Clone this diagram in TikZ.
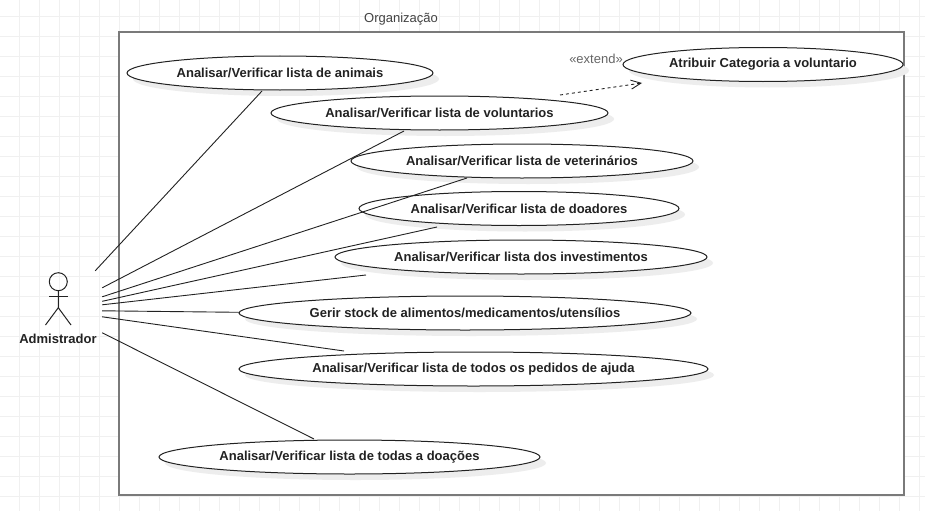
\documentclass[tikz,border=0pt]{standalone}
\usepackage{fontspec}
\setmainfont{Liberation Sans}
\usetikzlibrary{shapes.geometric,shadows,arrows.meta}
\definecolor{ink}{HTML}{222222}
\tikzset{
  usecase/.style={ellipse,draw=ink,line width=1pt,fill=white,inner sep=0pt,minimum height=34pt,
    font=\fontsize{13}{15}\selectfont\bfseries,text=ink,
    copy shadow={shadow xshift=6pt,shadow yshift=-6pt,draw=none,fill=black!7}},
  assoc/.style={draw=ink,line width=0.9pt},
  extendline/.style={draw=ink,line width=0.9pt,dash pattern=on 3pt off 3pt,-{Straight Barb[length=10pt,width=9pt,line width=0.9pt]}},
  gridline/.style={draw=black!6,line width=0.9pt},
  frame/.style={draw=black!52,line width=2pt,fill=white,inner sep=0pt},
  plain/.style={font=\fontsize{13}{15}\selectfont,text=ink!85,inner sep=0pt},
  stick/.style={draw=ink,line width=1pt},
  actorbox/.style={inner sep=0pt,minimum width=84pt,minimum height=76pt}
}
\begin{document}
\begin{tikzpicture}[x=1pt,y=-1pt]
\useasboundingbox (0,0) rectangle (925,511);
\fill[white] (0,0) rectangle (925,511);
\foreach \gx in {19.5,39.5,...,919.5} \draw[gridline] (\gx,0) -- (\gx,511);
\foreach \gy in {16,36,...,496} \draw[gridline] (0,\gy) -- (925,\gy);
\node[frame,minimum width=785pt,minimum height=463pt] (org) at (511.5,263.5) {};
\node[plain] (orgl) at (401,19) {Organização};
\node[plain,text=black!60] (extl) at (596,59) {«extend»};
% actor
\node[actorbox] (actor) at (60,309) {};
\node[circle,stick,inner sep=0pt,minimum size=18pt] (head) at (58.3,281.7) {};
\coordinate (hip) at (58.3,307.7);
\draw[stick] (head) -- (hip) -- (45.5,325);
\draw[stick] (hip) -- (71,325);
\draw[stick] (49,296.7) -- (68,296.7);
\node[plain,font=\fontsize{13}{15}\selectfont\bfseries,text=ink] (actorl) at (58,338.5) {Admistrador};
% use cases
\node[usecase,minimum width=306pt] (ani) at (280,73) {Analisar/Verificar lista de animais};
\node[usecase,minimum width=337pt] (vol) at (439.5,113) {Analisar/Verificar lista de voluntarios};
\node[usecase,minimum width=342pt] (vet) at (522,161) {Analisar/Verificar lista de veterinários};
\node[usecase,minimum width=320pt] (doa) at (519,208.5) {Analisar/Verificar lista de doadores};
\node[usecase,minimum width=372pt] (inv) at (521,257) {Analisar/Verificar lista dos investimentos};
\node[usecase,minimum width=452pt] (ges) at (465,313) {Gerir stock de alimentos/medicamentos/utensílios};
\node[usecase,minimum width=469pt] (ped) at (473.5,369) {Analisar/Verificar lista de todos os pedidos de ajuda};
\node[usecase,minimum width=381pt] (dac) at (349.5,457) {Analisar/Verificar lista de todas a doações};
\node[usecase,minimum width=280pt] (atr) at (763,64.5) {Atribuir Categoria a voluntario};
% connectors (actor.north east is at 102,271)
\draw[assoc] ([shift={(-7,0)}]actor.north east) -- ([shift={(-18,18)}]ani.center);
\draw[assoc] ([shift={(0,17)}]actor.north east) -- ([shift={(-35.5,18)}]vol.center);
\draw[assoc] ([shift={(0,26)}]actor.north east) -- ([shift={(-55,17)}]vet.center);
\draw[assoc] ([shift={(0,30.5)}]actor.north east) -- ([shift={(-82,18.5)}]doa.center);
\draw[assoc] ([shift={(0,34)}]actor.north east) -- ([shift={(-155,18)}]inv.center);
\draw[assoc] ([shift={(0,40)}]actor.north east) -- ([yshift=0.7pt]ges.west);
\draw[assoc] ([shift={(0,46)}]actor.north east) -- ([shift={(-129.5,-18)}]ped.center);
\draw[assoc] ([shift={(0,62)}]actor.north east) -- ([shift={(-35.5,-18)}]dac.center);
\draw[extendline] ([shift={(120.5,-18)}]vol.center) -- ([shift={(-121,18.5)}]atr.center);
\end{tikzpicture}
\end{document}
